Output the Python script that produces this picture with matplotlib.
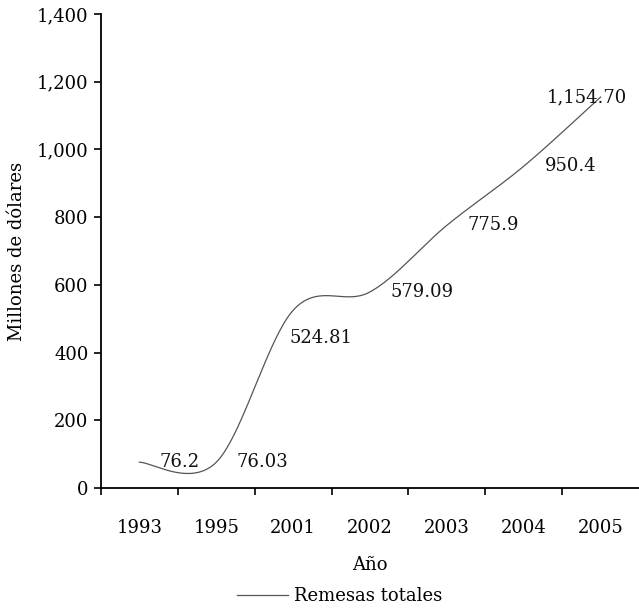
import numpy as np
import matplotlib.pyplot as plt
from matplotlib.ticker import FuncFormatter, FixedLocator

years = ["1993", "1995", "2001", "2002", "2003", "2004", "2005"]
remesas = [76.2, 76.03, 524.81, 579.09, 775.9, 950.4, 1154.70]
value_labels = ["76.2", "76.03", "524.81", "579.09", "775.9", "950.4", "1,154.70"]

# label offsets in pixels (dx, dy) from each point
label_offsets = [(20, 0), (20, 0), (-4, -28), (21, 0), (21, 0), (21, 0), (-54, 0)]

plt.rcParams["font.family"] = ["DejaVu Serif"]
FS = 13


def smooth(xs, ys, n=40):
    """Catmull-Rom style bezier smoothing, like a spreadsheet's smoothed line."""
    pts = np.column_stack([xs, ys]).astype(float)
    pad = np.vstack([pts[0], pts, pts[-1]])
    out = []
    for i in range(len(pts) - 1):
        p0, p1, p2, p3 = pad[i], pad[i + 1], pad[i + 2], pad[i + 3]
        c1 = p1 + (p2 - p0) / 6
        c2 = p2 - (p3 - p1) / 6
        t = np.linspace(0, 1, n)[:, None]
        seg = ((1 - t) ** 3) * p1 + 3 * ((1 - t) ** 2) * t * c1 \
            + 3 * (1 - t) * t ** 2 * c2 + t ** 3 * p2
        out.append(seg if i == 0 else seg[1:])
    curve = np.vstack(out)
    return curve[:, 0], curve[:, 1]


x = np.arange(len(years))
sx, sy = smooth(x, remesas)

fig = plt.figure(figsize=(6.39, 6.10), dpi=100)
ax = fig.add_axes([0.158, 0.2, 0.842, 0.777])

ax.plot(sx, sy, color="#555555", lw=0.9, label="Remesas totales")

for xi, v, txt, (dx, dy) in zip(x, remesas, value_labels, label_offsets):
    ax.annotate(txt, (xi, v), xytext=(dx, dy), textcoords="offset pixels",
                ha="left", va="center", fontsize=FS, color="#111111")

ax.set_xlim(-0.5, len(years) - 0.5)
ax.set_ylim(0, 1400)
ax.set_yticks(range(0, 1401, 200))
ax.yaxis.set_major_formatter(FuncFormatter(lambda v, p: f"{int(v):,}"))

ax.set_xticks(x)
ax.set_xticklabels(years)
# boundary ticks between categories (the last one sits off the edge)
ax.xaxis.set_minor_locator(FixedLocator(np.arange(-0.5, len(years) - 1, 1.0)))
ax.tick_params(axis="x", which="major", length=0, pad=22, labelsize=FS)
ax.tick_params(axis="x", which="minor", length=5, width=1.2, direction="out")
ax.tick_params(axis="y", length=5, width=1.2, pad=4, labelsize=FS)

for side in ("top", "right"):
    ax.spines[side].set_visible(False)
for side in ("left", "bottom"):
    ax.spines[side].set_linewidth(1.3)

ax.set_xlabel("Año", fontsize=FS, labelpad=14)
ax.set_ylabel("Millones de dólares", fontsize=FS, labelpad=8)

fig.legend(loc="center", bbox_to_anchor=(340 / 639, 14 / 610), frameon=False,
           fontsize=FS, handlelength=2.8, handletextpad=0.35)

fig.savefig("out.png", dpi=100)
